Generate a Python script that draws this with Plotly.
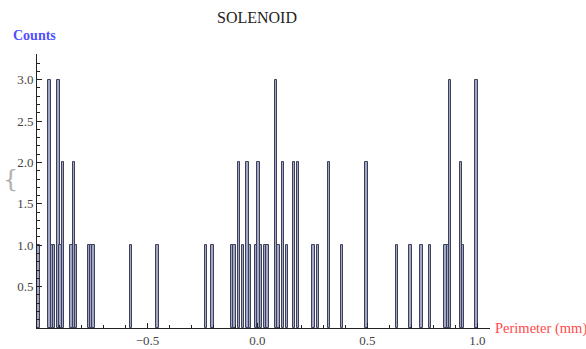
import plotly.graph_objects as go

# Bin centres (mm, bins of 0.01) and counts
bin_centers = [-0.995, -0.945, -0.935, -0.925, -0.905, -0.895, -0.885,
               -0.845, -0.835, -0.825, -0.765, -0.755, -0.745,
               -0.575, -0.455,
               -0.235, -0.205, -0.115, -0.105, -0.085, -0.065, -0.045,
               -0.035, -0.005, 0.005, 0.015, 0.035, 0.045, 0.085, 0.095,
               0.115, 0.135, 0.165, 0.185, 0.255, 0.275, 0.325, 0.385,
               0.495, 0.635, 0.695, 0.745, 0.785, 0.855, 0.865, 0.875,
               0.925, 0.935, 0.995]
counts = [1, 3, 1, 1, 3, 1, 2,
          1, 2, 1, 1, 1, 1,
          1, 1,
          1, 1, 1, 1, 2, 1, 2,
          1, 1, 2, 1, 1, 1, 3, 1,
          2, 1, 2, 2, 1, 1, 2, 1,
          2, 1, 1, 1, 1, 1, 1, 3,
          2, 1, 3]

x_tickvals = [-0.5, 0.0, 0.5, 1.0]
x_ticktext = ["\u22120.5", "0.0", "0.5", "1.0"]
y_tickvals = [0.5, 1.0, 1.5, 2.0, 2.5, 3.0]
y_ticktext = ["0.5", "1.0", "1.5", "2.0", "2.5", "3.0"]

SERIF = "Liberation Serif"

fig = go.Figure()
fig.add_trace(go.Bar(
    x=bin_centers, y=counts, width=0.0105,
    marker=dict(color="rgb(160,166,200)", line=dict(color="rgb(62,64,88)", width=1)),
))

fig.update_layout(
    width=586, height=349,
    margin=dict(l=37, r=96, t=54, b=21),
    plot_bgcolor="white", paper_bgcolor="white",
    showlegend=False,
    bargap=0,
    font=dict(family=SERIF, size=13, color="#444"),
    annotations=[
        dict(text="SOLENOID", x=0.4857, y=1.135, xref="paper", yref="paper",
             showarrow=False, font=dict(family=SERIF, size=16, color="#222"),
             xanchor="center", yanchor="middle"),
        dict(text="<b>Counts</b>", x=-0.058, y=1.066, xref="paper", yref="paper",
             showarrow=False, font=dict(family=SERIF, size=14, color="#5050ff"),
             xanchor="left", yanchor="middle"),
        dict(text="Perimeter (mm)", x=1.006, y=0.0, xref="paper", yref="paper",
             showarrow=False, font=dict(family=SERIF, size=14.5, color="#ff4a4a"),
             xanchor="left", yanchor="middle"),
        dict(text="{", x=-0.058, y=0.545, xref="paper", yref="paper",
             showarrow=False, font=dict(family="DejaVu Serif", size=24, color="#b0b0b0"),
             xanchor="center", yanchor="middle"),
    ],
)

fig.update_xaxes(
    range=[-1.002, 1.057], showgrid=False, zeroline=False, automargin=False,
    showline=True, linecolor="#222", linewidth=1,
    tickmode="array", tickvals=x_tickvals, ticktext=x_ticktext,
    ticks="inside", ticklen=5, tickcolor="#222", tickwidth=1,
    tickfont=dict(family=SERIF, size=13, color="#444"),
    minor=dict(dtick=0.1, tick0=0, ticks="inside", ticklen=3, tickcolor="#222", showgrid=False),
)
fig.update_yaxes(
    range=[0, 3.31], showgrid=False, zeroline=False, automargin=False,
    showline=True, linecolor="#222", linewidth=1,
    tickmode="array", tickvals=y_tickvals, ticktext=y_ticktext,
    ticks="inside", ticklen=5, tickcolor="#222", tickwidth=1,
    tickfont=dict(family=SERIF, size=13, color="#444"),
    minor=dict(dtick=0.1, tick0=0, ticks="inside", ticklen=3, tickcolor="#222", showgrid=False),
)

fig.write_html("out.html")
